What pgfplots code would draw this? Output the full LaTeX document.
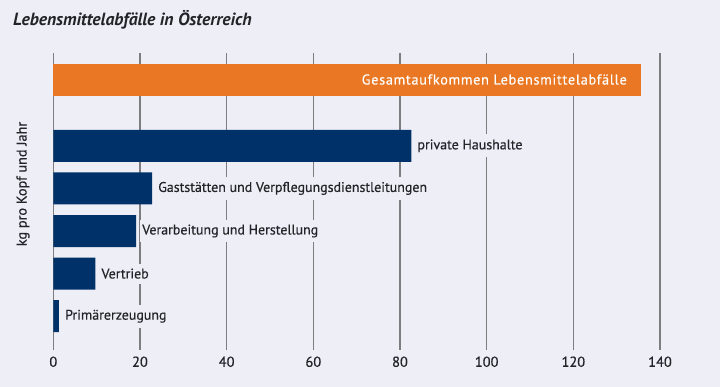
\documentclass[border=0pt]{standalone}
\usepackage{pgfplots}
\pgfplotsset{compat=1.18}
\usepackage{fontspec}
\setmainfont{PT Sans}
\newfontfamily\lblfont[FakeBold=0.5]{PT Sans}
\newfontfamily\orgfont[FakeBold=0.3, LetterSpace=5]{PT Sans}
\definecolor{bg}{RGB}{238,239,246}
\definecolor{navy}{RGB}{0,50,105}
\definecolor{orng}{RGB}{233,119,35}
\definecolor{gridc}{RGB}{125,125,128}
\definecolor{txt}{RGB}{35,35,40}
\begin{document}
\begin{tikzpicture}
\fill[bg] (0,0) rectangle (720bp,387bp);
\node[anchor=base west, inner sep=0, text=txt, font=\bfseries\itshape\fontsize{17.7}{19}\selectfont] at (13bp,361bp) {Lebensmittelabfälle in Österreich};
\node[rotate=90, anchor=center, inner sep=0, text=txt, font=\lblfont\fontsize{14.3}{16}\selectfont] at (23bp,203bp) {kg pro Kopf und Jahr};
\begin{axis}[
  at={(53.3bp,37bp)}, anchor=south west,
  scale only axis, width=606.7bp, height=296.7bp,
  xmin=0, xmax=140, ymin=-0.793, ymax=6.171,
  axis line style={draw=none},
  xtick={0,20,...,140}, ytick=\empty,
  major tick length=0pt,
  xmajorgrids, grid style={gridc, line width=1.4bp},
  /pgf/number format/assume math mode=true,
  xticklabel style={font=\lblfont\fontsize{14.5}{16}\selectfont, text=txt, yshift=-3bp},
  xbar, bar width=32bp, bar shift=0pt,
  clip=false,
]
\addplot[fill=orng, draw=none,
  nodes near coords={Gesamtaufkommen Lebensmittelabfälle},
  every node near coord/.append style={anchor=east, inner sep=0pt, xshift=-13.5bp, text=white, font=\orgfont\fontsize{14.3}{16}\selectfont}]
  coordinates {(135.5,5.556)};
\addplot[fill=navy, draw=none,
  point meta=explicit symbolic,
  nodes near coords,
  every node near coord/.append style={anchor=west, inner xsep=2bp, inner ysep=5bp, xshift=4bp, fill=bg, text=txt, font=\lblfont\fontsize{14}{16}\selectfont}]
  coordinates {
    (82.6,4) [private Haushalte]
    (22.8,3) [Gaststätten und Verpflegungsdienstleitungen]
    (19.1,2) [Verarbeitung und Herstellung]
    (9.7,1) [Vertrieb]
    (1.3,0) [Primärerzeugung]
  };
\end{axis}
\end{tikzpicture}
\end{document}
